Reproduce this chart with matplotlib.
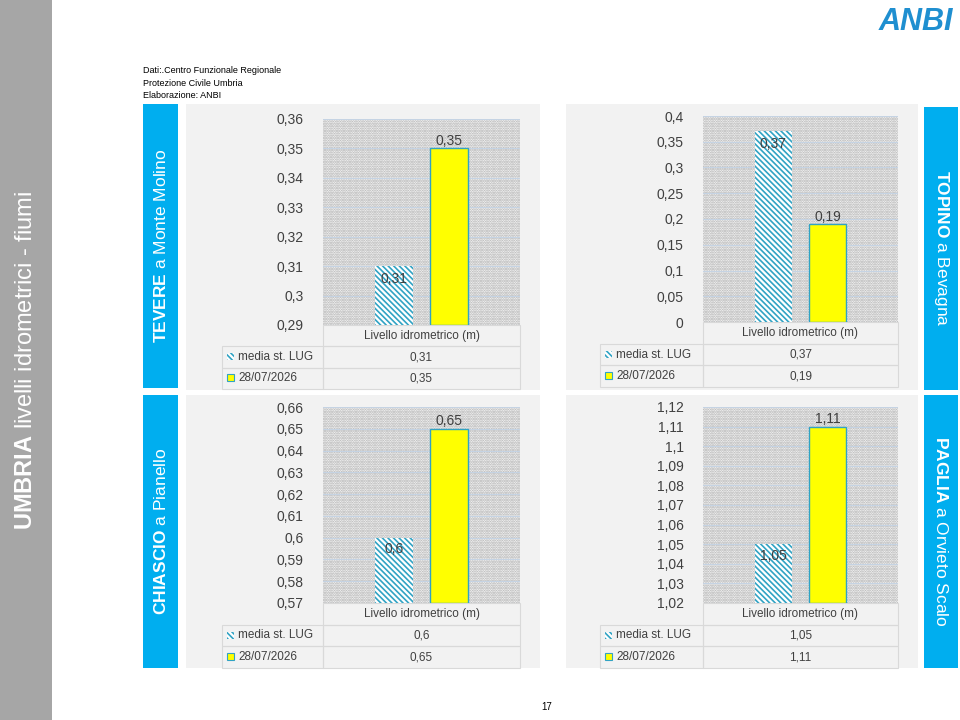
import matplotlib
matplotlib.use("Agg")
import matplotlib.pyplot as plt
from matplotlib.patches import Rectangle

plt.rcParams['font.family'] = ['Liberation Sans', 'DejaVu Sans']
plt.rcParams['mathtext.fontset'] = 'custom'
plt.rcParams['mathtext.rm'] = 'Liberation Sans'
plt.rcParams['mathtext.bf'] = 'Liberation Sans:bold'
plt.rcParams['hatch.linewidth'] = 1.2

# data
stations = [("TEVERE", " a Monte Molino"), ("TOPINO", " a Bevagna"),
            ("CHIASCIO", " a Pianello"), ("PAGLIA", " a Orvieto Scalo")]
media = [0.31, 0.37, 0.6, 1.05]
oggi = [0.35, 0.19, 0.65, 1.11]
ylims = [(0.29, 0.36, 0.01), (0.0, 0.4, 0.05), (0.57, 0.66, 0.01), (1.02, 1.12, 0.01)]
series = ["media st. LUG", "28/07/2026"]
category = "Livello idrometrico (m)"

W, H = 960, 720
fig = plt.figure(figsize=(9.6, 7.2), dpi=100)
HATCH = '\\\\\\\\\\\\'


def box(x0, y0, x1, y1, z=-5, **kw):
    r = Rectangle((x0 / W, 1 - y1 / H), (x1 - x0) / W, (y1 - y0) / H,
                  transform=fig.transFigure, **kw)
    r.set_zorder(z)
    return fig.add_artist(r)


def ftext(x, y, s, **kw):
    fig.text(x / W, 1 - y / H, s, **kw)


def fmt(v):
    s = ("%.2f" % v).rstrip('0').rstrip('.')
    return s.replace('.', ',')


# left gray band
box(0, 0, 52, 720, color='#a6a6a6', lw=0)
fig.text(26 / W, 0.5, r"$\bf{UMBRIA}$ livelli idrometrici - fiumi", rotation=90,
         color='white', fontsize=17, ha='center', va='center')
ftext(143, 66, "Dati:.Centro Funzionale Regionale\nProtezione Civile Umbria\nElaborazione: ANBI",
      fontsize=6.5, va='top', linespacing=1.5)
ftext(547, 707, "17", fontsize=7, ha='center', va='center')
ftext(916, 22, "ANBI", fontsize=22, fontweight='bold', color='#1f8fd0', ha='center',
      va='center', style='italic')

# panel geometry: box, plot area, legend col x, label box, table bottom
panels = [
    ((186, 104, 540, 390), (323, 119, 520, 325), 222, (143, 104, 178, 388), 389),
    ((566, 104, 918, 390), (703, 116, 898, 322), 600, (924, 107, 958, 390), 387),
    ((186, 395, 540, 668), (323, 407, 520, 603), 222, (143, 395, 178, 668), 668),
    ((566, 395, 918, 668), (703, 407, 898, 603), 600, (924, 395, 958, 668), 668),
]

for i, (bx, px, lx, lb, tb) in enumerate(panels):
    box(*bx, color='#f2f2f2', lw=0)
    box(*lb, color='#00aeef', lw=0)
    name, place = stations[i]
    rot = 90 if i in (0, 2) else 270
    fig.text((lb[0] + lb[2]) / 2 / W, 1 - (lb[1] + lb[3]) / 2 / H,
             r"$\bf{%s}$%s" % (name, place), rotation=rot, color='white',
             fontsize=12.5, ha='center', va='center')

    ax = fig.add_axes([px[0] / W, 1 - px[3] / H, (px[2] - px[0]) / W, (px[3] - px[1]) / H])
    ax.set_zorder(2)
    ax.set_facecolor('white')
    ax.add_patch(Rectangle((0, 0), 1, 1, transform=ax.transAxes, facecolor='white',
                           hatch='.......', edgecolor='#a8a8a8', lw=0, zorder=0))
    lo, hi, st = ylims[i]
    ticks = [lo + k * st for k in range(int(round((hi - lo) / st)) + 1)]
    ax.set_ylim(lo, hi)
    ax.set_yticks(ticks)
    ax.set_yticklabels([fmt(t) for t in ticks], fontsize=10, color='#404040')
    ax.grid(axis='y', color='#c5d3e3', lw=0.8)
    ax.set_axisbelow(True)
    ax.set_xlim(0, 1)
    ax.set_xticks([])
    for s in ax.spines.values():
        s.set_visible(False)
    ax.tick_params(axis='y', length=0, pad=14)
    ax.bar(0.36, media[i] - lo, bottom=lo, width=0.19, facecolor='white',
           edgecolor='#31a3c4', hatch=HATCH, lw=0, zorder=2)
    ax.bar(0.64, oggi[i] - lo, bottom=lo, width=0.19, facecolor='#ffff00',
           edgecolor='#31a3c4', lw=1, zorder=2)
    ax.text(0.36, media[i] - (hi - lo) * 0.06, fmt(media[i]), ha='center', va='center',
            fontsize=10, color='#404040', zorder=3)
    ax.text(0.64, oggi[i] + (hi - lo) * 0.002, fmt(oggi[i]), ha='center', va='bottom',
            fontsize=10, color='#404040', zorder=3)

    # data table
    rh = (tb - px[3]) / 3
    y0 = px[3]
    rows = [(None, category), (series[0], fmt(media[i])), (series[1], fmt(oggi[i]))]
    for r, (lab, val) in enumerate(rows):
        ya, yb = y0 + r * rh, y0 + (r + 1) * rh
        box(px[0], ya, px[2], yb, z=1, facecolor='none', edgecolor='#d9d9d9', lw=0.8)
        if lab is not None:
            box(lx, ya, px[0], yb, z=1, facecolor='none', edgecolor='#d9d9d9', lw=0.8)
            if r == 1:
                box(lx + 5, ya + rh / 2 - 4, lx + 12, ya + rh / 2 + 3, z=1, facecolor='white',
                    edgecolor='#31a3c4', hatch=HATCH, lw=0)
            else:
                box(lx + 5, ya + rh / 2 - 4, lx + 12, ya + rh / 2 + 3, z=1, facecolor='#ffff00',
                    edgecolor='#31a3c4', lw=0.8)
            ftext(lx + 16, (ya + yb) / 2, lab, fontsize=8.5, va='center', color='#404040')
        ftext((px[0] + px[2]) / 2, (ya + yb) / 2, val, fontsize=8.5, ha='center',
              va='center', color='#404040')

fig.savefig("out.png", dpi=100)
